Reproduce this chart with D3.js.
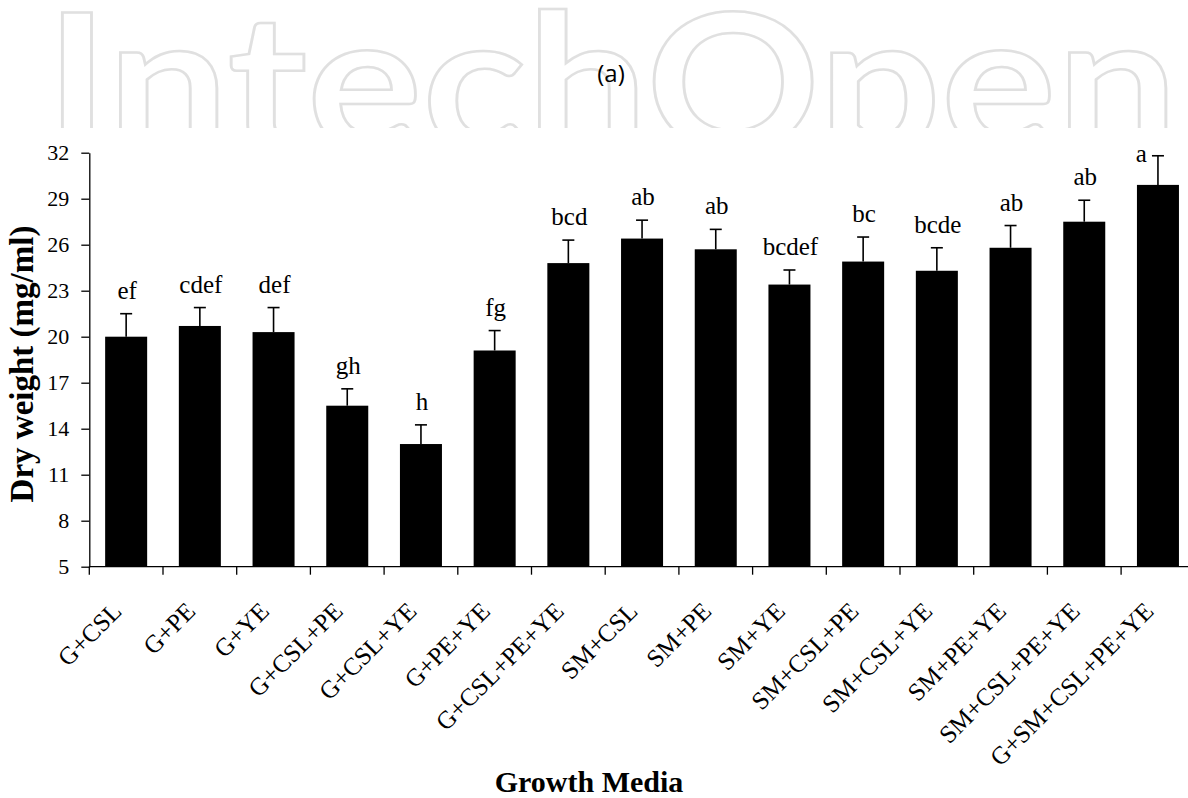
<!DOCTYPE html>
<html>
<head>
<meta charset="utf-8">
<script src="https://cdn.jsdelivr.net/npm/d3@7"></script>
<style>
  body { margin: 0; background: #fff; }
  svg { display: block; }
</style>
</head>
<body>
<svg id="chart" width="1188" height="798"></svg>
<script>
// growth media (x categories)
var media = ["G+CSL", "G+PE", "G+YE", "G+CSL+PE", "G+CSL+YE", "G+PE+YE", "G+CSL+PE+YE",
  "SM+CSL", "SM+PE", "SM+YE", "SM+CSL+PE", "SM+CSL+YE", "SM+PE+YE", "SM+CSL+PE+YE", "G+SM+CSL+PE+YE"];
// dry weight, mg/ml
var dryWeight = [20.0, 20.7, 20.3, 15.5, 13.0, 19.1, 24.8, 26.4, 25.7, 23.4, 24.9, 24.3, 25.8, 27.5, 29.9];
// error (upper bar only)
var errUp = [1.5, 1.2, 1.6, 1.1, 1.25, 1.3, 1.5, 1.2, 1.3, 0.95, 1.6, 1.5, 1.45, 1.4, 1.9];
// significance letters
var letters = ["ef", "cdef", "def", "gh", "h", "fg", "bcd", "ab", "ab", "bcdef", "bc", "bcde", "ab", "ab", "a"];
var yTicks = [5, 8, 11, 14, 17, 20, 23, 26, 29, 32];

var svg = d3.select("#chart");
var plotLeft = 89.3, plotTop = 152.7, plotBottom = 566.7, step = 73.7;
var serif = "'Liberation Serif', 'Times New Roman', serif";

// watermark
svg.append("clipPath").attr("id", "wmclip")
  .append("rect").attr("x", 0).attr("y", 0).attr("width", 1188).attr("height", 128);
svg.append("text")
  .attr("clip-path", "url(#wmclip)")
  .attr("x", 45).attr("y", 150)
  .attr("textLength", 1133).attr("lengthAdjust", "spacingAndGlyphs")
  .style("font-family", "Lato, 'Open Sans', sans-serif")
  .style("font-size", "190px").style("font-weight", "bold")
  .attr("fill", "none").attr("stroke", "#e0e0e0").attr("stroke-width", 2.5)
  .text("IntechOpen");

svg.append("text")
  .attr("x", 611).attr("y", 82).attr("text-anchor", "middle")
  .style("font-family", "'Open Sans', sans-serif").style("font-size", "24px")
  .text("(a)");

var x = d3.scaleBand().domain(media)
  .range([plotLeft, plotLeft + step * media.length])
  .paddingInner(0.43).paddingOuter(0.215);
var y = d3.scaleLinear().domain([5, 32]).range([plotBottom, plotTop]);

// bars
svg.selectAll("rect.bar").data(dryWeight).enter().append("rect")
  .attr("class", "bar")
  .attr("x", function(d, i) { return x(media[i]); })
  .attr("y", function(d) { return y(d); })
  .attr("width", x.bandwidth())
  .attr("height", function(d) { return y(5) - y(d); })
  .attr("fill", "#000");

// error bars
var errG = svg.append("g").attr("stroke", "#000").attr("stroke-width", 1.6);
dryWeight.forEach(function(d, i) {
  var cx = x(media[i]) + x.bandwidth() / 2;
  errG.append("line").attr("x1", cx).attr("x2", cx).attr("y1", y(d)).attr("y2", y(d + errUp[i]));
  errG.append("line").attr("x1", cx - 6).attr("x2", cx + 6).attr("y1", y(d + errUp[i])).attr("y2", y(d + errUp[i]));
});

// letters above error bars
dryWeight.forEach(function(d, i) {
  var cx = x(media[i]) + x.bandwidth() / 2;
  var capY = y(d + errUp[i]);
  var t = svg.append("text")
    .style("font-family", serif).style("font-size", "25px")
    .text(letters[i]);
  if (capY - 15 < plotTop) {
    // no room above: put it beside the cap
    t.attr("x", cx - 11).attr("y", capY + 6).attr("text-anchor", "end");
  } else {
    t.attr("x", cx + 1).attr("y", capY - 15).attr("text-anchor", "middle");
  }
});

// y axis
var yAxis = svg.append("g")
  .attr("transform", "translate(" + plotLeft + ",0)")
  .call(d3.axisLeft(y).tickValues(yTicks).tickSize(8).tickSizeOuter(0));
yAxis.select(".domain").attr("stroke", "#000").attr("stroke-width", 1.3);
yAxis.selectAll(".tick line").attr("stroke", "#000").attr("stroke-width", 1.3);
yAxis.selectAll(".tick text")
  .attr("x", -20)
  .style("font-family", serif).style("font-size", "22px").attr("fill", "#000");

// x axis line and boundary ticks
svg.append("line")
  .attr("x1", x.range()[0]).attr("x2", x.range()[1])
  .attr("y1", plotBottom).attr("y2", plotBottom)
  .attr("stroke", "#000").attr("stroke-width", 1.3);
d3.range(media.length + 1).forEach(function(i) {
  var bx = x.range()[0] + i * x.step();
  svg.append("line")
    .attr("x1", bx).attr("x2", bx).attr("y1", plotBottom).attr("y2", plotBottom + 8)
    .attr("stroke", "#000").attr("stroke-width", 1.3);
});

// x labels
media.forEach(function(m) {
  var px = x(m) + x.bandwidth() / 2 - 3, py = plotBottom + 46;
  svg.append("text")
    .attr("transform", "translate(" + px + "," + py + ") rotate(-45)")
    .attr("text-anchor", "end")
    .style("font-family", serif).style("font-size", "25px")
    .text(m);
});

// axis titles
svg.append("text")
  .attr("transform", "translate(33,364) rotate(-90)")
  .attr("text-anchor", "middle")
  .style("font-family", serif).style("font-size", "33px").style("font-weight", "bold")
  .text("Dry weight (mg/ml)");
svg.append("text")
  .attr("x", 589).attr("y", 792).attr("text-anchor", "middle")
  .style("font-family", serif).style("font-size", "30px").style("font-weight", "bold")
  .text("Growth Media");
</script>
</body>
</html>
